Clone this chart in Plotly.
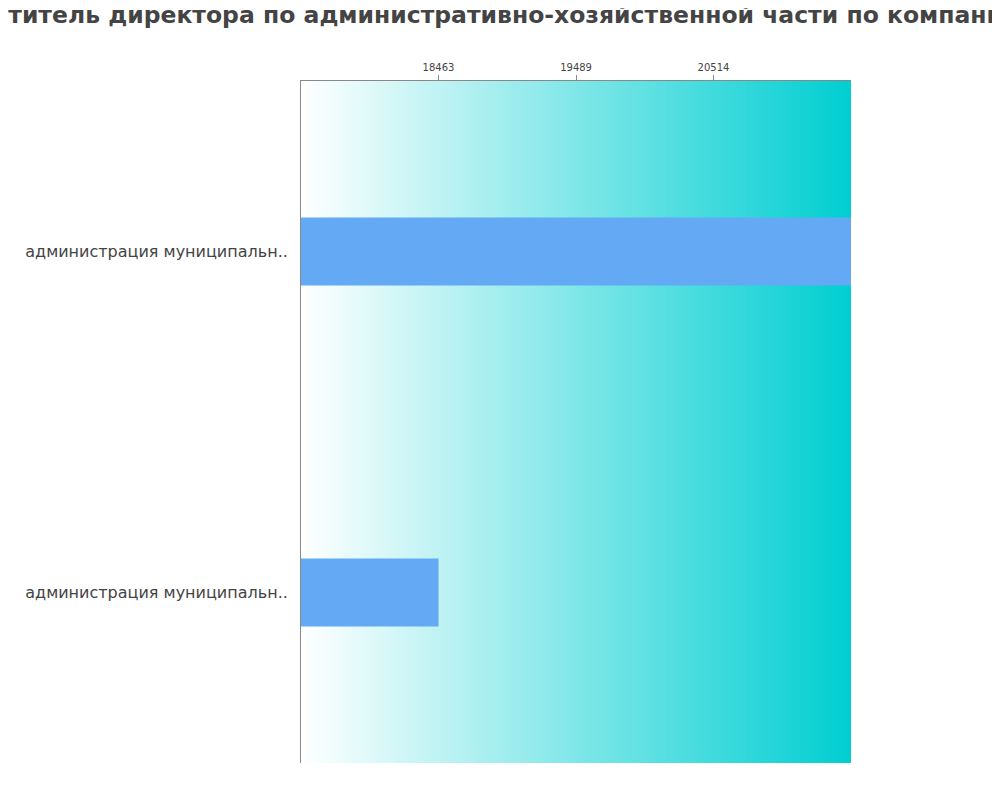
import plotly.graph_objects as go

# data
companies = ["администрация муниципальн..", "администрация муниципальн.."]
salaries = [21540, 18463]
tick_values = [18463, 19489, 20514]
x_range = [17437, 21540]

title_text = "Заместитель директора по административно-хозяйственной части по компаниям"

bar_color = "#63a9f4"
text_color = "#444444"

fig = go.Figure()

# gradient background on its own axes, drawn below the bars
fig.add_trace(go.Heatmap(
    z=[[0, 1]],
    x=[0, 1],
    y=[0],
    xaxis="x2",
    yaxis="y2",
    colorscale=[[0, "#ffffff"], [1, "#00ced1"]],
    zsmooth="best",
    showscale=False,
    hoverinfo="skip",
))

positions = list(range(len(companies)))

fig.add_trace(go.Bar(
    x=salaries,
    y=positions,
    orientation="h",
    marker=dict(color=bar_color, line=dict(width=0)),
    width=0.2,
    showlegend=False,
))

fig.update_layout(
    width=1000,
    height=800,
    margin=dict(l=293, r=157, t=73, b=45),
    paper_bgcolor="white",
    plot_bgcolor="rgba(0,0,0,0)",
    font=dict(family="DejaVu Sans", color=text_color),
    title=dict(
        text=title_text,
        font=dict(family="DejaVu Sans", size=23.5, color=text_color, weight="bold"),
        x=0.474,
        xanchor="center",
        y=0.992,
        yanchor="middle",
    ),
    xaxis=dict(
        range=x_range,
        side="top",
        overlaying="x2",
        tickvals=tick_values,
        ticktext=[str(v) for v in tick_values],
        ticks="outside",
        ticklen=5,
        tickcolor="#888888",
        tickfont=dict(size=10, color=text_color),
        showgrid=False,
        zeroline=False,
        showline=True,
        linecolor="#888888",
        linewidth=1,
    ),
    yaxis=dict(
        range=[len(companies) - 0.5, -0.5],
        overlaying="y2",
        tickvals=positions,
        ticktext=companies,
        tickfont=dict(size=16, color=text_color),
        ticks="",
        ticklabelstandoff=9,
        showgrid=False,
        zeroline=False,
        showline=True,
        linecolor="#888888",
        linewidth=1,
    ),
    xaxis2=dict(range=[0, 1], visible=False, fixedrange=True),
    yaxis2=dict(range=[-0.5, 0.5], visible=False, fixedrange=True),
)

fig.write_html("out.html")
